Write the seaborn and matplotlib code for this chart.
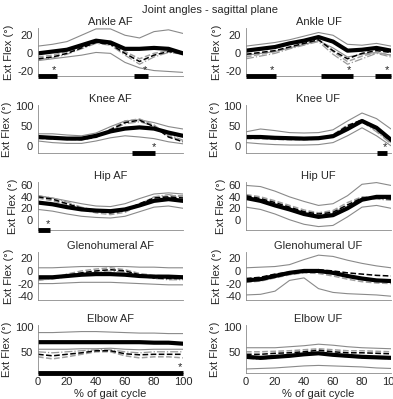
import matplotlib
matplotlib.use("Agg")
import matplotlib.pyplot as plt
import seaborn as sns

# % of gait cycle sample points
PCT = [0, 10, 20, 30, 40, 50, 60, 70, 80, 90, 100]

# Ankle AF
AA_MEAN = [0, 2, 4, 9, 14, 12, 5, 5, 6, 5, 0]
AA_UP = [8, 10, 13, 20, 27, 27, 20, 17, 24, 26, 22]
AA_LO = [-8, -6, -4, -2, 1, 0, -10, -16, -19, -20, -21]
AA_D1 = [-6, -4, 0, 6, 12, 10, 0, -9, -2, 2, 0]
AA_D2 = [-4, -2, 2, 7, 13, 11, 2, -6, 0, 3, 1]
AA_D3 = [-7, -5, -1, 5, 11, 9, -2, -12, -4, 1, -1]
AA_SIG = [(0, 13), (66, 76)]
AA_STAR = [11, 74]

# Ankle UF
AU_MEAN = [3, 5, 7, 11, 14, 18, 13, 3, 4, 6, 3]
AU_UP = [8, 10, 12, 15, 19, 23, 20, 10, 9, 11, 8]
AU_LO = [-2, 0, 2, 6, 10, 14, 6, -4, -1, 1, -2]
AU_D1 = [-1, 1, 3, 7, 11, 15, 3, -6, 0, 3, 1]
AU_D2 = [-4, -1, 2, 6, 10, 15, 2, -9, -3, 1, -2]
AU_D3 = [-6, -3, 0, 5, 9, 13, -1, -12, -6, 0, -4]
AU_SIG = [(0, 21), (52, 74), (89, 100)]
AU_STAR = [18, 71, 97]

# Knee AF
KA_MEAN = [22, 20, 18, 18, 25, 36, 43, 46, 43, 33, 25]
KA_UP = [30, 30, 27, 25, 32, 48, 62, 65, 58, 48, 42]
KA_LO = [12, 8, 6, 6, 12, 20, 25, 22, 18, 10, 5]
KA_D1 = [20, 18, 17, 16, 22, 40, 58, 64, 48, 22, 10]
KA_D2 = [18, 17, 16, 15, 21, 42, 62, 67, 52, 25, 12]
KA_D3 = [24, 22, 19, 17, 24, 38, 55, 60, 50, 28, 14]
KA_SIG = [(65, 81)]
KA_STAR = [80]

# Knee UF
KU_MEAN = [22, 22, 20, 19, 18, 19, 24, 42, 62, 45, 15]
KU_UP = [35, 42, 38, 33, 32, 33, 40, 62, 82, 68, 42]
KU_LO = [8, 5, 3, 2, 2, 3, 8, 25, 45, 25, 0]
KU_D1 = [25, 22, 20, 18, 17, 18, 26, 50, 65, 42, 12]
KU_D2 = [18, 18, 16, 15, 15, 17, 28, 52, 62, 38, 8]
KU_D3 = [20, 20, 18, 16, 16, 18, 27, 48, 60, 35, 5]
KU_SIG = [(90, 97)]
KU_STAR = [96]

# Hip AF
HA_MEAN = [30, 27, 22, 18, 16, 15, 18, 25, 33, 36, 33]
HA_UP = [42, 38, 33, 28, 24, 23, 28, 37, 45, 47, 45]
HA_LO = [18, 15, 10, 6, 4, 3, 6, 14, 22, 24, 20]
HA_D1 = [40, 36, 28, 20, 15, 12, 16, 28, 38, 40, 38]
HA_D2 = [38, 33, 26, 18, 12, 9, 13, 26, 38, 42, 42]
HA_D3 = [42, 38, 31, 22, 16, 12, 15, 27, 40, 44, 40]
HA_SIG = [(0, 8)]
HA_STAR = [7]

# Hip UF
HU_MEAN = [38, 33, 25, 18, 10, 5, 8, 20, 35, 40, 40]
HU_UP = [60, 58, 50, 40, 32, 25, 28, 42, 62, 65, 60]
HU_LO = [22, 18, 10, 0, -8, -12, -10, 5, 22, 25, 20]
HU_D1 = [42, 37, 30, 22, 14, 10, 13, 26, 38, 38, 36]
HU_D2 = [44, 40, 33, 25, 17, 12, 16, 30, 40, 40, 40]
HU_D3 = [40, 35, 27, 20, 12, 8, 12, 25, 37, 36, 34]
HU_SIG = []
HU_STAR = []

# Glenohumeral AF
GA_MEAN = [-10, -10, -8, -6, -5, -5, -6, -8, -9, -9, -10]
GA_UP = [5, 5, 6, 7, 7, 7, 7, 6, 6, 5, 5]
GA_LO = [-20, -20, -19, -18, -18, -18, -19, -20, -21, -22, -22]
GA_D1 = [-12, -11, -7, -3, 0, 2, 0, -6, -11, -12, -12]
GA_D2 = [-15, -12, -5, 0, 3, 5, 2, -4, -7, -8, -8]
GA_D3 = [-14, -13, -9, -5, -2, 0, -2, -8, -12, -14, -14]
GA_SIG = []
GA_STAR = []

# Glenohumeral UF
GU_MEAN = [-15, -13, -8, -3, 0, 0, -3, -8, -12, -15, -16]
GU_UP = [5, 6, 7, 10, 18, 25, 23, 17, 12, 8, 5]
GU_LO = [-38, -37, -32, -15, -11, -28, -34, -36, -37, -38, -40]
GU_D1 = [-12, -10, -5, -2, 1, 2, 0, -3, -5, -7, -8]
GU_D2 = [-18, -16, -11, -6, -3, -4, -8, -13, -17, -19, -20]
GU_D3 = [-14, -12, -8, -4, -1, -1, -4, -9, -13, -16, -17]
GU_SIG = []
GU_STAR = []

# Elbow AF
EA_MEAN = [69, 69, 69, 69, 69, 69, 69, 69, 68, 68, 66]
EA_UP = [88, 88, 89, 90, 90, 89, 88, 87, 87, 86, 86]
EA_LO = [55, 55, 55, 56, 56, 57, 55, 54, 55, 55, 55]
EA_D1 = [45, 42, 45, 48, 52, 52, 46, 44, 45, 45, 45]
EA_D2 = [40, 36, 40, 45, 50, 50, 42, 38, 40, 40, 38]
EA_D3 = [50, 48, 50, 52, 54, 54, 50, 48, 50, 50, 50]
EA_SIG = [(0, 100)]
EA_STAR = [98]

# Elbow UF
EU_MEAN = [40, 38, 40, 42, 45, 47, 44, 42, 40, 39, 38]
EU_UP = [58, 58, 58, 60, 62, 65, 63, 60, 58, 57, 56]
EU_LO = [16, 17, 18, 20, 22, 23, 22, 21, 20, 18, 17]
EU_D1 = [45, 45, 47, 48, 50, 53, 50, 48, 48, 47, 46]
EU_D2 = [50, 50, 51, 52, 54, 56, 54, 52, 52, 51, 50]
EU_D3 = [37, 35, 38, 41, 44, 46, 43, 40, 38, 37, 36]
EU_SIG = []
EU_STAR = []

PANELS = [
    ("Ankle AF", AA_MEAN, AA_UP, AA_LO, AA_D1, AA_D2, AA_D3, AA_SIG, AA_STAR),
    ("Ankle UF", AU_MEAN, AU_UP, AU_LO, AU_D1, AU_D2, AU_D3, AU_SIG, AU_STAR),
    ("Knee AF", KA_MEAN, KA_UP, KA_LO, KA_D1, KA_D2, KA_D3, KA_SIG, KA_STAR),
    ("Knee UF", KU_MEAN, KU_UP, KU_LO, KU_D1, KU_D2, KU_D3, KU_SIG, KU_STAR),
    ("Hip AF", HA_MEAN, HA_UP, HA_LO, HA_D1, HA_D2, HA_D3, HA_SIG, HA_STAR),
    ("Hip UF", HU_MEAN, HU_UP, HU_LO, HU_D1, HU_D2, HU_D3, HU_SIG, HU_STAR),
    ("Glenohumeral AF", GA_MEAN, GA_UP, GA_LO, GA_D1, GA_D2, GA_D3, GA_SIG, GA_STAR),
    ("Glenohumeral UF", GU_MEAN, GU_UP, GU_LO, GU_D1, GU_D2, GU_D3, GU_SIG, GU_STAR),
    ("Elbow AF", EA_MEAN, EA_UP, EA_LO, EA_D1, EA_D2, EA_D3, EA_SIG, EA_STAR),
    ("Elbow UF", EU_MEAN, EU_UP, EU_LO, EU_D1, EU_D2, EU_D3, EU_SIG, EU_STAR),
]

# per row: ylim, yticks
ROW_LIMS = [((-25, 28), [-20, 0, 20]),
            ((-18, 102), [0, 50, 100]),
            ((-18, 66), [0, 20, 40, 60]),
            ((-46, 30), [-40, -20, 0, 20]),
            ((8, 103), [50, 100])]

sns.set_style("white")
plt.rcParams['font.family'] = ['Liberation Sans', 'DejaVu Sans']
plt.rcParams['axes.unicode_minus'] = False

fig = plt.figure(figsize=(3.93, 3.99), dpi=100)
row_tops = [28, 105, 182, 252, 325]
row_h = 48
col_left = [38, 246]
col_w = 145
W, H = 393.0, 399.0

GRAY = '#8a8a8a'
for i, (name, mean, up, lo, d1, d2, d3, sig, star) in enumerate(PANELS):
    r, c = divmod(i, 2)
    ax = fig.add_axes([col_left[c] / W, 1 - (row_tops[r] + row_h) / H, col_w / W, row_h / H])
    sns.lineplot(x=PCT, y=up, ax=ax, color=GRAY, lw=0.8)
    sns.lineplot(x=PCT, y=lo, ax=ax, color=GRAY, lw=0.8)
    sns.lineplot(x=PCT, y=d3, ax=ax, color='#9a9a9a', lw=0.9, linestyle='-.')
    sns.lineplot(x=PCT, y=d2, ax=ax, color='#a0a0a0', lw=1.1, linestyle='--')
    sns.lineplot(x=PCT, y=d1, ax=ax, color='black', lw=1.1, linestyle='--')
    sns.lineplot(x=PCT, y=mean, ax=ax, color='black', lw=3.0)
    trans = ax.get_xaxis_transform()
    for x0, x1 in sig:
        ax.plot([x0, x1], [0, 0], transform=trans, color='black', lw=3.5,
                solid_capstyle='butt', clip_on=False, zorder=5)
    for xs in star:
        ax.text(xs, 0.13, '*', transform=trans, ha='center', va='center', fontsize=8)
    ylim, yt = ROW_LIMS[r]
    ax.set_xlim(0, 100)
    ax.set_ylim(*ylim)
    ax.set_yticks(yt)
    ax.set_title(name, fontsize=8, pad=2)
    ax.set_ylabel('Ext Flex (°)', fontsize=8, labelpad=2)
    for sp in ['top', 'right']:
        ax.spines[sp].set_visible(False)
    ax.spines['left'].set_color(GRAY)
    ax.spines['left'].set_linewidth(0.6)
    ax.spines['bottom'].set_color(GRAY)
    ax.spines['bottom'].set_linewidth(0.6)
    ax.tick_params(axis='y', length=2, width=0.5, color=GRAY, pad=1.5, labelsize=8)
    if r == 4:
        ax.set_xticks([0, 20, 40, 60, 80, 100])
        ax.tick_params(axis='x', length=0, pad=3, labelsize=8)
        ax.set_xlabel('% of gait cycle', fontsize=8, labelpad=1)
    else:
        ax.set_xticks([])

fig.text(0.535, 0.975, 'Joint angles - sagittal plane', ha='center', va='center', fontsize=8)
fig.savefig('out.png', dpi=100)
